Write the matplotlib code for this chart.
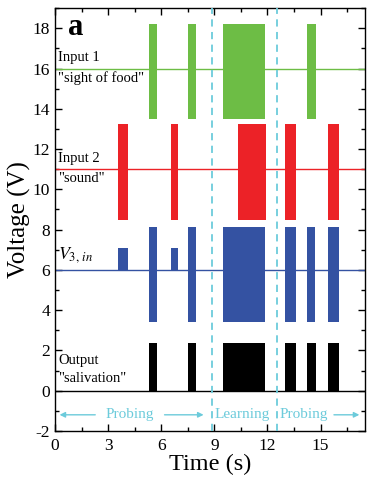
import matplotlib
matplotlib.use("Agg")
import matplotlib.pyplot as plt
from matplotlib.ticker import MultipleLocator

plt.rcParams['font.family'] = ['Liberation Serif', 'DejaVu Serif']
plt.rcParams['mathtext.fontset'] = 'stix'
plt.rcParams['axes.unicode_minus'] = False

# ---- data ----
# pulse windows (start, end) in seconds
green_pulses = [(5.31, 5.76), (7.50, 7.97), (9.47, 11.88), (14.22, 14.73)]
red_pulses = [(3.58, 4.10), (6.54, 6.93), (10.32, 11.90), (13.00, 13.60), (15.44, 16.05)]
blue_small_pulses = [(3.58, 4.10), (6.54, 6.93)]
blue_pulses = [(5.31, 5.74), (7.53, 7.97), (9.47, 11.88), (13.00, 13.60), (14.24, 14.69), (15.44, 16.05)]
black_pulses = [(5.31, 5.76), (7.50, 7.97), (9.47, 11.88), (13.00, 13.60), (14.24, 14.73), (15.44, 16.05)]

green_base, green_low, green_high = 16.0, 13.52, 18.23
red_base, red_low, red_high = 11.0, 8.48, 13.26
blue_base, blue_low, blue_high, blue_small_high = 6.0, 3.39, 8.11, 7.10
black_base, black_high = 0.0, 2.36

learning_bounds = [8.85, 12.52]

x_ticks = [0, 3, 6, 9, 12, 15]
y_ticks = [-2, 0, 2, 4, 6, 8, 10, 12, 14, 16, 18]

GREEN = '#6dbd45'
RED = '#ec2227'
BLUE = '#3452a2'
BLACK = '#000000'
CYAN = '#6ccbdb'

fig = plt.figure(figsize=(3.82, 4.82), dpi=100)
ax = fig.add_axes([0.144, 0.106, 0.811, 0.877])
xmin, xmax = 0, 17.5

def draw_pulses(pulses, low, high, color):
    starts = [p[0] for p in pulses]
    widths = [p[1] - p[0] for p in pulses]
    ax.bar(starts, [high - low] * len(pulses), width=widths, bottom=low,
           align='edge', color=color, linewidth=0, zorder=3)

for base, color in [(green_base, GREEN), (red_base, RED), (blue_base, BLUE), (black_base, BLACK)]:
    ax.plot([xmin, xmax], [base, base], color=color, lw=1.0, zorder=2)

draw_pulses(green_pulses, green_low, green_high, GREEN)
draw_pulses(red_pulses, red_low, red_high, RED)
draw_pulses(blue_small_pulses, blue_base, blue_small_high, BLUE)
draw_pulses(blue_pulses, blue_low, blue_high, BLUE)
draw_pulses(black_pulses, black_base, black_high, BLACK)

for xb in learning_bounds:
    ax.axvline(xb, color=CYAN, lw=1.3, ls=(0, (4, 3)), zorder=4)

ax.set_xlim(xmin, xmax)
ax.set_ylim(-2, 19.0)
ax.set_xticks(x_ticks)
ax.set_yticks(y_ticks)
ax.xaxis.set_minor_locator(MultipleLocator(1.5))
ax.yaxis.set_minor_locator(MultipleLocator(1))
ax.tick_params(which='both', direction='in', top=True, right=True, labelsize=12.5, width=1)
ax.tick_params(which='major', length=5)
ax.tick_params(which='minor', length=3)
ax.tick_params(axis='x', pad=5)
for s in ax.spines.values():
    s.set_linewidth(1.0)

ax.set_xlabel('Time (s)', fontsize=17.5, labelpad=0)
ax.set_ylabel('Voltage (V)', fontsize=18, labelpad=1)

# annotations
ax.text(0.73, 17.65, 'a', fontsize=22, fontweight='bold', va='baseline', ha='left')
ax.text(0.17, 16.25, 'Input 1', fontsize=10.5, va='bottom', ha='left')
ax.text(0.17, 15.85, '"sight of food"', fontsize=10.5, va='top', ha='left')
ax.text(0.17, 11.22, 'Input 2', fontsize=10.5, va='bottom', ha='left')
ax.text(0.17, 10.85, '"sound"', fontsize=10.5, va='top', ha='left')
ax.text(0.17, 6.25, r'$V_{3,\,in}$', fontsize=13, va='bottom', ha='left')
ax.text(0.17, 1.8, 'Output', fontsize=10.5, va='top', ha='left')
ax.text(0.17, 0.3, '"salivation"', fontsize=10.5, va='bottom', ha='left')

yarr = -1.2
ax.text(4.22, yarr, 'Probing', color=CYAN, fontsize=11, ha='center', va='center')
ax.text(10.57, yarr, 'Learning', color=CYAN, fontsize=11, ha='center', va='center')
ax.text(14.07, yarr, 'Probing', color=CYAN, fontsize=11, ha='center', va='center')
arrow_kw = dict(arrowstyle='-|>', color=CYAN, lw=1.0, mutation_scale=8)
ax.annotate('', xy=(0.1, yarr), xytext=(2.43, yarr), arrowprops=arrow_kw)
ax.annotate('', xy=(8.55, yarr), xytext=(6.03, yarr), arrowprops=arrow_kw)
ax.annotate('', xy=(17.35, yarr), xytext=(15.6, yarr), arrowprops=arrow_kw)

fig.savefig('out.png', dpi=100)
